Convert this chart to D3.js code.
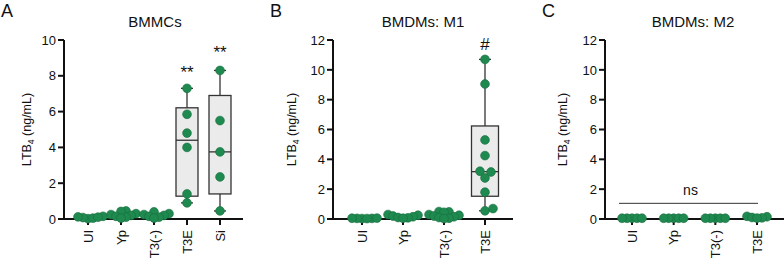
<!DOCTYPE html>
<html>
<head>
<meta charset="utf-8">
<script src="https://cdn.jsdelivr.net/npm/d3@7"></script>
<style>
  body { margin: 0; background: #fff; }
  text { font-family: Arial, "Liberation Sans", sans-serif; fill: #111; }
</style>
</head>
<body>
<svg id="chart" width="784" height="260"></svg>
<script>
// categories
const catsA = ["UI", "Yp", "T3(-)", "T3E", "Si"];
const catsB = ["UI", "Yp", "T3(-)", "T3E"];
const catsC = ["UI", "Yp", "T3(-)", "T3E"];

// BMMCs (ng/mL)
const bmmcUI = [0.02, 0.08, 0.12, 0.15, 0.05, 0.1];
const bmmcYp = [0.45, 0.42, 0.3, 0.25, 0.2, 0.15, 0.1, 0.05];
const bmmcT3neg = [0.4, 0.3, 0.25, 0.2, 0.15, 0.1, 0.05];
const bmmcT3E = [7.3, 5.85, 4.8, 4.0, 1.4, 0.9];
const bmmcSi = [8.3, 5.5, 3.75, 2.35, 0.45];

// BMDMs M1
const m1UI = [0.03, 0.04, 0.05, 0.04, 0.06, 0.03];
const m1Yp = [0.3, 0.25, 0.2, 0.15, 0.1, 0.08, 0.05];
const m1T3neg = [0.5, 0.48, 0.45, 0.3, 0.25, 0.2, 0.15, 0.1, 0.05, 0.03];
const m1T3E = [10.7, 9.05, 5.3, 4.25, 3.15, 3.2, 2.75, 1.8, 0.55, 0.7];

// BMDMs M2
const m2UI = [0.05, 0.05, 0.05, 0.05, 0.05];
const m2Yp = [0.05, 0.05, 0.05, 0.05, 0.05];
const m2T3neg = [0.05, 0.05, 0.05, 0.05, 0.05];
const m2T3E = [0.18, 0.15, 0.1, 0.08, 0.06];

const ticksA = [0, 2, 4, 6, 8, 10];
const ticksB = [0, 2, 4, 6, 8, 10, 12];

const green = "#1f8a50";
const ink = "#111";
const svg = d3.select("#chart");

// quartiles like Prism: (n+1) method
function quart(vals, p) {
  const s = vals.slice().sort((a, b) => a - b);
  const pos = p * (s.length + 1);
  const lo = Math.floor(pos), f = pos - lo;
  if (lo < 1) return s[0];
  if (lo >= s.length) return s[s.length - 1];
  return s[lo - 1] + f * (s[lo] - s[lo - 1]);
}

// simple beeswarm offsets, no random
function swarm(ys, d) {
  const order = ys.map((y, i) => i).sort((a, b) => ys[b] - ys[a]);
  const placed = [];
  const out = new Array(ys.length);
  order.forEach(i => {
    const y = ys[i];
    let best = 0;
    for (let k = 0; k < 60; k++) {
      const cand = k === 0 ? 0 : (k % 2 ? 1 : -1) * Math.ceil(k / 2) * 1;
      const ok = placed.every(p => (p.x - cand) ** 2 + (p.y - y) ** 2 >= d * d);
      if (ok) { best = cand; break; }
    }
    placed.push({ x: best, y: y });
    out[i] = best;
  });
  return out;
}

function panel(opt) {
  const y0 = 219, yTop = 40;
  const y = d3.scaleLinear().domain([0, opt.max]).range([y0, yTop]);
  const x = d3.scalePoint().domain(opt.cats).range(opt.xr);
  const g = svg.append("g");

  // y axis
  g.append("line").attr("x1", opt.ax).attr("x2", opt.ax)
    .attr("y1", y0 + 1).attr("y2", y(opt.max))
    .attr("stroke", ink).attr("stroke-width", 2);
  g.selectAll(null).data(opt.ticks).enter().append("line")
    .attr("x1", opt.ax - 6).attr("x2", opt.ax)
    .attr("y1", d => y(d)).attr("y2", d => y(d))
    .attr("stroke", ink).attr("stroke-width", 2);
  g.selectAll(null).data(opt.ticks).enter().append("text")
    .attr("x", opt.ax - 8).attr("y", d => y(d)).attr("dy", "0.36em")
    .attr("text-anchor", "end").attr("font-size", 13).text(d => d);

  // x axis
  g.append("line")
    .attr("x1", opt.ax - 1).attr("x2", opt.xend)
    .attr("y1", y0).attr("y2", y0)
    .attr("stroke", ink).attr("stroke-width", 2);
  g.selectAll(null).data(opt.cats).enter().append("line")
    .attr("x1", d => x(d)).attr("x2", d => x(d))
    .attr("y1", y0).attr("y2", y0 + 6)
    .attr("stroke", ink).attr("stroke-width", 2);
  g.selectAll(null).data(opt.cats).enter().append("text")
    .attr("transform", d => "translate(" + x(d) + "," + (y0 + 11) + ") rotate(-90)")
    .attr("text-anchor", "end").attr("dy", "0.36em")
    .attr("font-size", 13).text(d => d);

  // y label with subscript
  const yl = g.append("text")
    .attr("transform", "translate(" + opt.ylx + "," + (y0 + yTop) / 2 + ") rotate(-90)")
    .attr("text-anchor", "middle").attr("font-size", 12.5);
  yl.append("tspan").text("LTB");
  yl.append("tspan").attr("font-size", 8.5).attr("dy", 3).text("4");
  yl.append("tspan").attr("dy", -3).text(" (ng/mL)");

  // titles
  g.append("text").attr("x", opt.tx).attr("y", 27).attr("text-anchor", "middle")
    .attr("font-size", 15).text(opt.title);
  g.append("text").attr("x", opt.lx).attr("y", 17).attr("font-size", 18).text(opt.letter);

  const bw = opt.boxW;
  opt.groups.forEach((vals, gi) => {
    const cx = x(opt.cats[gi]);
    if (opt.box.includes(gi)) {
      const q1 = quart(vals, 0.25), q3 = quart(vals, 0.75), med = d3.median(vals);
      const mn = d3.min(vals), mx = d3.max(vals);
      g.append("line").attr("x1", cx).attr("x2", cx).attr("y1", y(mx)).attr("y2", y(mn))
        .attr("stroke", "#333").attr("stroke-width", 1.3);
      [mn, mx].forEach(v => g.append("line").attr("x1", cx - 6).attr("x2", cx + 6)
        .attr("y1", y(v)).attr("y2", y(v)).attr("stroke", "#333").attr("stroke-width", 1.3));
      g.append("rect").attr("x", cx - bw / 2).attr("width", bw)
        .attr("y", y(q3)).attr("height", y(q1) - y(q3))
        .attr("fill", "#ebebeb").attr("stroke", "#333").attr("stroke-width", 1.3);
      g.append("line").attr("x1", cx - bw / 2).attr("x2", cx + bw / 2)
        .attr("y1", y(med)).attr("y2", y(med)).attr("stroke", "#333").attr("stroke-width", 1.3);
    }
    const ys = vals.map(v => y(v));
    const offs = swarm(ys, opt.box.includes(gi) ? 8 : 5);
    g.selectAll(null).data(vals).enter().append("circle")
      .attr("cx", (d, i) => cx + offs[i])
      .attr("cy", d => y(d))
      .attr("r", 4.4)
      .attr("fill", green)
      .attr("stroke", "#176b3d").attr("stroke-width", 0.6);
  });

  (opt.marks || []).forEach(m => {
    g.append("text").attr("x", x(m.cat)).attr("y", y(m.at)).attr("text-anchor", "middle")
      .attr("font-size", 17).text(m.txt);
  });
  return { g: g, x: x, y: y };
}

panel({
  cats: catsA, groups: [bmmcUI, bmmcYp, bmmcT3neg, bmmcT3E, bmmcSi], box: [3, 4],
  max: 10, ticks: ticksA, ax: 64, xr: [88, 220], xend: 243, boxW: 22,
  ylx: 31, tx: 155, title: "BMMCs", lx: 1, letter: "A",
  marks: [{ cat: "T3E", at: 7.9, txt: "**" }, { cat: "Si", at: 9.0, txt: "**" }]
});

panel({
  cats: catsB, groups: [m1UI, m1Yp, m1T3neg, m1T3E], box: [3],
  max: 12, ticks: ticksB, ax: 333, xr: [362, 485], xend: 513, boxW: 27,
  ylx: 296, tx: 423, title: "BMDMs: M1", lx: 270, letter: "B",
  marks: [{ cat: "T3E", at: 11.3, txt: "#" }]
});

const pc = panel({
  cats: catsC, groups: [m2UI, m2Yp, m2T3neg, m2T3E], box: [],
  max: 12, ticks: ticksB, ax: 605, xr: [632, 757], xend: 784, boxW: 27,
  ylx: 567, tx: 693, title: "BMDMs: M2", lx: 542, letter: "C"
});

// ns bar across all groups in panel C
pc.g.append("line")
  .attr("x1", pc.x("UI") - 13).attr("x2", pc.x("T3E") + 1)
  .attr("y1", pc.y(1.05)).attr("y2", pc.y(1.05))
  .attr("stroke", "#333").attr("stroke-width", 1);
pc.g.append("text").attr("x", (pc.x("UI") + pc.x("T3E")) / 2 - 4).attr("y", pc.y(1.6))
  .attr("text-anchor", "middle").attr("font-size", 14).text("ns");
</script>
</body>
</html>
